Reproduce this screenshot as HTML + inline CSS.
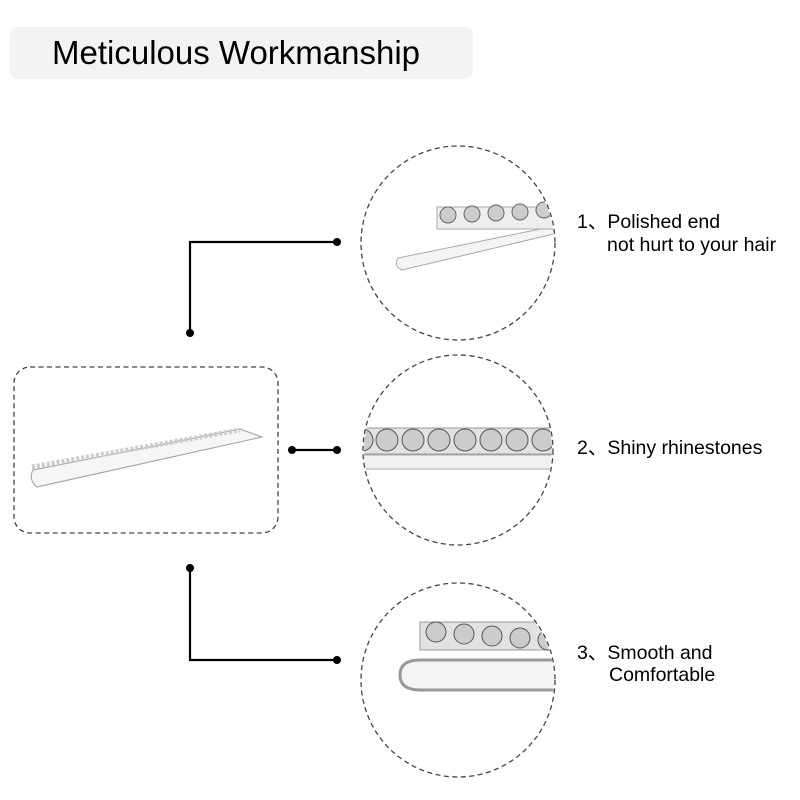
<!DOCTYPE html>
<html><head><meta charset="utf-8"><style>
body{margin:0;width:800px;height:800px;background:#fff;overflow:hidden;position:relative;font-family:"Liberation Sans","Noto Sans CJK SC",sans-serif}
.title{position:absolute;left:10px;top:27px;width:463px;height:52px;background:#f3f3f3;border-radius:9px}
.title span{position:absolute;left:42px;top:7px;font-size:33px;color:#000;white-space:nowrap}
.t{position:absolute;font-size:19.5px;color:#000;white-space:nowrap;line-height:1}
svg{position:absolute;left:0;top:0}
</style></head><body>
<div class="title"><span>Meticulous Workmanship</span></div>
<svg width="800" height="800">
<g fill="none" stroke="#444" stroke-width="1.3" stroke-dasharray="5,3.5">
<rect x="14" y="367" width="264" height="166" rx="16"/>
<circle cx="458" cy="243" r="97"/>
<circle cx="458" cy="450" r="95"/>
<circle cx="458" cy="680" r="97"/>
</g>
<g stroke="#000" stroke-width="2.2" fill="none">
<polyline points="190,333 190,242 337,242"/>
<line x1="292" y1="450" x2="337" y2="450"/>
<polyline points="190,568 190,660 337,660"/>
</g>
<g fill="#000">
<circle cx="190" cy="333" r="4"/><circle cx="337" cy="242" r="4"/>
<circle cx="292" cy="450" r="4"/><circle cx="337" cy="450" r="4"/>
<circle cx="190" cy="568" r="4"/><circle cx="337" cy="660" r="4"/>
</g>
<g stroke="#aaa" fill="none">
<path d="M33,470 L240,429 L262,437 L37,487 Q28,480 33,470Z" stroke-width="1.2" fill="#f6f6f6"/>
<path d="M32,467 L240,430" stroke="#ccc" stroke-width="5" stroke-dasharray="3,2"/>
</g>
<defs>
<clipPath id="c1"><circle cx="458" cy="243" r="96"/></clipPath>
<clipPath id="c2"><circle cx="458" cy="450" r="94"/></clipPath>
<clipPath id="c3"><circle cx="458" cy="680" r="96"/></clipPath>
</defs>
<g clip-path="url(#c1)">
<path d="M398,258 L560,225 L562,232 L402,270 Q393,266 398,258Z" fill="#f4f4f4" stroke="#aaa"/>
<rect x="437" y="207" width="130" height="22" fill="#eee" stroke="#aaa"/>
<g fill="#ccc" stroke="#666"><circle cx="448" cy="215" r="8"/><circle cx="472" cy="214" r="8"/><circle cx="496" cy="213" r="8"/><circle cx="520" cy="212" r="8"/><circle cx="544" cy="210" r="8"/></g>
</g>
<g clip-path="url(#c2)">
<rect x="355" y="455" width="210" height="14" fill="#f0f0f0" stroke="#aaa"/>
<rect x="355" y="428" width="210" height="26" fill="#e2e2e2" stroke="#999"/>
<g fill="#ccc" stroke="#555"><circle cx="362" cy="440" r="11"/><circle cx="387" cy="440" r="11"/><circle cx="413" cy="440" r="11"/><circle cx="439" cy="440" r="11"/><circle cx="465" cy="440" r="11"/><circle cx="491" cy="440" r="11"/><circle cx="517" cy="440" r="11"/><circle cx="543" cy="440" r="11"/></g>
</g>
<g clip-path="url(#c3)">
<path d="M560,660 L420,660 Q400,660 400,675 Q400,690 420,690 L560,690" fill="#f4f4f4" stroke="#999" stroke-width="3"/>
<rect x="420" y="622" width="140" height="28" fill="#e2e2e2" stroke="#999"/>
<g fill="#ccc" stroke="#555"><circle cx="436" cy="632" r="10"/><circle cx="464" cy="634" r="10"/><circle cx="492" cy="636" r="10"/><circle cx="520" cy="638" r="10"/><circle cx="548" cy="640" r="10"/></g>
</g>
</svg>
<div class="t" style="left:577px;top:213px">1、Polished end</div>
<div class="t" style="left:607px;top:236px">not hurt to your hair</div>
<div class="t" style="left:577px;top:439px">2、Shiny rhinestones</div>
<div class="t" style="left:577px;top:644px">3、Smooth and</div>
<div class="t" style="left:609px;top:666px">Comfortable</div>
</body></html>
